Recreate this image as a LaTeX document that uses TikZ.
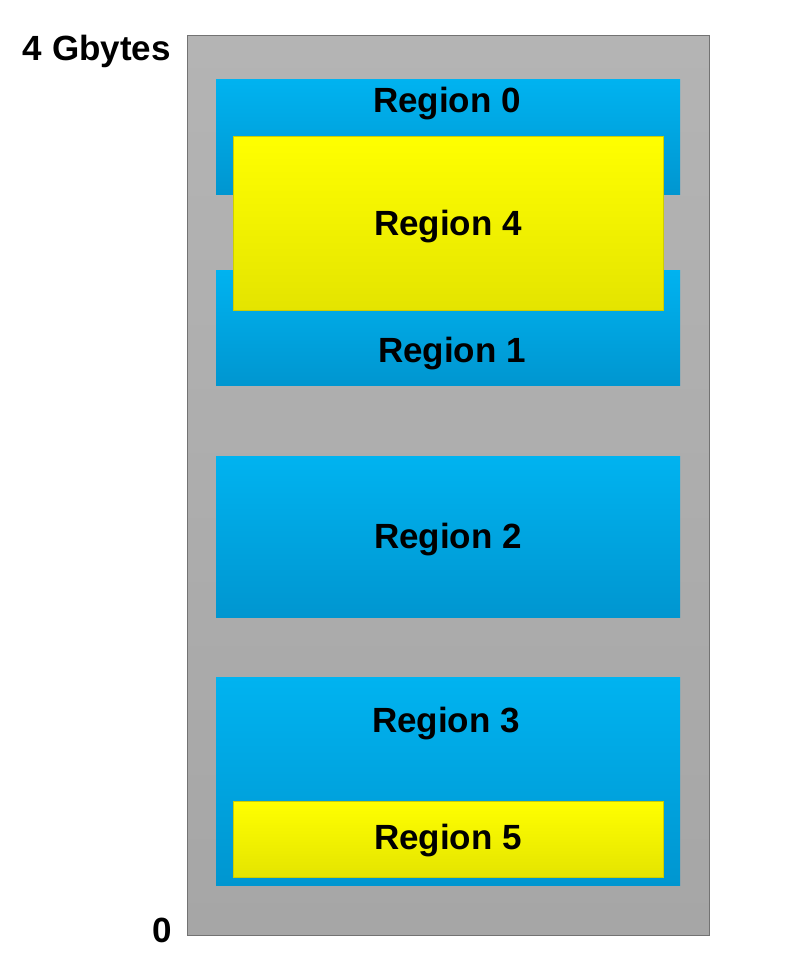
\documentclass[tikz,border=0pt]{standalone}
\usepackage{fontspec}
\setmainfont{Liberation Sans}
\usetikzlibrary{positioning}

\definecolor{blauOben}{HTML}{00B3F0}
\definecolor{blauUnten}{HTML}{0096D0}
\definecolor{gelbOben}{HTML}{FFFF00}
\definecolor{gelbUnten}{HTML}{E4E400}
\definecolor{grauOben}{HTML}{B4B4B4}
\definecolor{grauUnten}{HTML}{A6A6A6}

\tikzset{
  speicher/.style={top color=grauOben,bottom color=grauUnten,draw=black!55,line width=0.8pt},
  region/.style={top color=blauOben,bottom color=blauUnten},
  overlay/.style={top color=gelbOben,bottom color=gelbUnten,draw=gelbUnten!90!black,line width=0.4pt},
  lbl/.style={font=\fontsize{35}{42}\selectfont\bfseries,inner sep=0pt}
}

\begin{document}
\begin{tikzpicture}[x=1pt,y=-1pt]
    \useasboundingbox (0,0) rectangle (808,980);

    % Adressraum
    \shade[speicher] (187,35) rectangle (709,935);
    \node[lbl,anchor=east] (top) at (171,51) {4 Gbytes};
    \node[lbl,anchor=east] (bottom) at (172,930) {0};

    % Regionen
    \shade[region] (216,79) rectangle (680,194);
    \shade[region] (216,270) rectangle (680,385);
    \shade[region] (216,456) rectangle (680,617);
    \shade[region] (216,677) rectangle (680,885);

    % ueberlappende Regionen
    \shade[overlay] (233,136) rectangle (663,310);
    \shade[overlay] (233,801) rectangle (663,877);

    % Beschriftung
    \node[lbl] (r0) at (447,104) {Region 0};
    \node[lbl] (r4) at (448,227) {Region 4};
    \node[lbl] (r1) at (452,354) {Region 1};
    \node[lbl] (r2) at (448,540) {Region 2};
    \node[lbl] (r3) at (446,724) {Region 3};
    \node[lbl] (r5) at (448,841) {Region 5};

  \end{tikzpicture}
\end{document}
